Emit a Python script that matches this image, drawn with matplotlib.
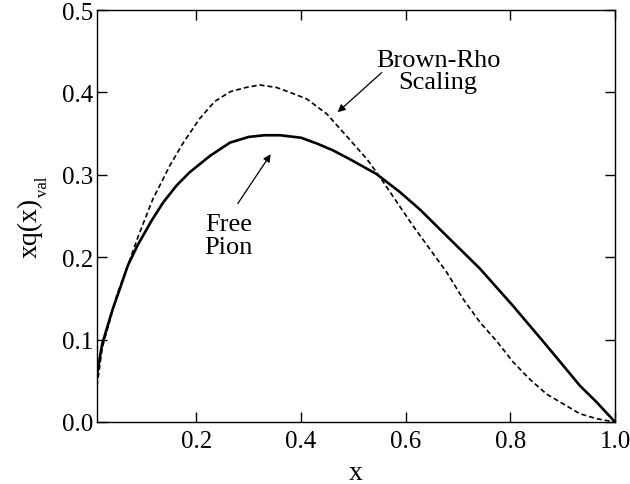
import numpy as np
import matplotlib
matplotlib.use('Agg')
import matplotlib.pyplot as plt

plt.rcParams['font.family'] = ['Liberation Serif', 'DejaVu Serif']

# Free pion valence distribution (solid)
free_x = [0.01, 0.02, 0.04, 0.05, 0.069, 0.088, 0.114, 0.136, 0.162, 0.187, 0.226, 0.264,
          0.30, 0.33, 0.36, 0.40, 0.43, 0.46, 0.493, 0.544, 0.589, 0.627, 0.678, 0.742,
          0.805, 0.869, 0.933, 0.965, 1.0]
free_y = [0.058, 0.095, 0.137, 0.155, 0.190, 0.215, 0.244, 0.266, 0.287, 0.303, 0.323, 0.339,
          0.346, 0.348, 0.348, 0.345, 0.338, 0.330, 0.319, 0.301, 0.279, 0.258, 0.226, 0.186,
          0.141, 0.093, 0.044, 0.024, 0.0]

# Brown-Rho scaling (dashed)
br_x = [0.01, 0.02, 0.047, 0.07, 0.088, 0.104, 0.117, 0.130, 0.149, 0.175, 0.206, 0.235,
        0.265, 0.295, 0.321, 0.353, 0.379, 0.411, 0.449, 0.487, 0.526, 0.551, 0.583, 0.614,
        0.646, 0.678, 0.710, 0.742, 0.774, 0.805, 0.837, 0.869, 0.901, 0.933, 0.965, 1.0]
br_y = [0.044, 0.090, 0.152, 0.192, 0.224, 0.250, 0.271, 0.287, 0.311, 0.339, 0.368, 0.389,
        0.401, 0.406, 0.409, 0.406, 0.400, 0.392, 0.374, 0.347, 0.319, 0.297, 0.267, 0.238,
        0.210, 0.182, 0.149, 0.121, 0.098, 0.073, 0.052, 0.034, 0.022, 0.010, 0.004, 0.0]

xticks = [0.2, 0.4, 0.6, 0.8, 1.0]
yticks = [0.0, 0.1, 0.2, 0.3, 0.4, 0.5]

fig = plt.figure(figsize=(6.3, 4.85), dpi=100)
ax = fig.add_axes([97/630, 1-423/485, (615-97)/630, (423-11)/485])

ax.plot(free_x, free_y, color='black', lw=1.9, solid_capstyle='butt', solid_joinstyle='round')
ax.plot(br_x, br_y, color='black', lw=1.2, dashes=(3, 1.8))

ax.set_xlim(0.01, 1.0)
ax.set_ylim(0.0, 0.5)
ax.set_xticks(xticks)
ax.set_xticklabels(['%.1f' % t for t in xticks], fontfamily='Liberation Serif')
ax.set_yticks(yticks)
ax.set_yticklabels(['%.1f' % t for t in yticks], fontfamily='Liberation Serif')

ax.tick_params(direction='in', length=7, width=1, top=True, right=True, labelsize=18)
ax.tick_params(axis='x', pad=6)
ax.tick_params(axis='y', pad=3)
for s in ax.spines.values():
    s.set_linewidth(1.0)

# axis labels placed in figure pixels
fig.text(356/630, 1-480/485, 'x', fontsize=20, ha='center', va='baseline')
fig.text(37/630, 1-258/485, 'xq(x)', fontsize=20, rotation=90, rotation_mode='anchor',
         ha='left', va='baseline')
fig.text(47/630, 1-197/485, 'val', fontsize=12, rotation=90, rotation_mode='anchor',
         ha='left', va='baseline')

arrow = dict(arrowstyle='-|>', color='black', lw=0.9, mutation_scale=11, shrinkA=0, shrinkB=0)
ax.annotate('', xy=(0.342, 0.325), xytext=(0.279, 0.265), arrowprops=arrow)
ax.text(0.262, 0.226, 'Free\nPion', fontsize=19, ha='center', va='center', linespacing=1.05)

ax.annotate('', xy=(0.470, 0.376), xytext=(0.554, 0.424), arrowprops=arrow)
ax.text(0.662, 0.426, 'Brown-Rho\nScaling', fontsize=19, ha='center', va='center',
        linespacing=1.05)

fig.savefig('out.png', dpi=100)
